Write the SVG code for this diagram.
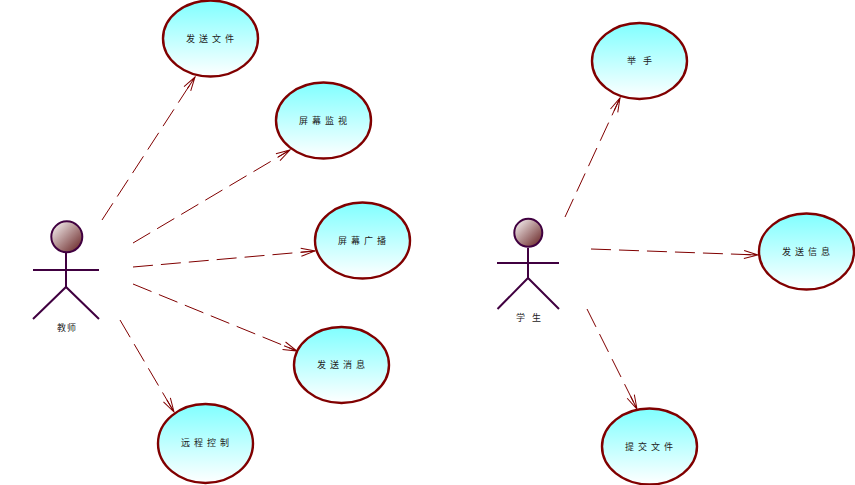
<svg xmlns="http://www.w3.org/2000/svg" width="855" height="485" viewBox="0 0 855 485">
<style>
.uc{fill:url(#ucFill);stroke:#800000;stroke-width:2.4}
.head{fill:url(#headFill);stroke:#400040;stroke-width:2}
.limb{fill:none;stroke:#400040;stroke-width:2}
.dep{fill:none;stroke:#800000;stroke-width:1;stroke-dasharray:20 8;marker-end:url(#open)}
text{font-family:"Noto Sans CJK SC","Liberation Sans",sans-serif;font-size:9px;fill:#222}
.s{letter-spacing:4px}
</style>
<defs>
<linearGradient id="ucFill" x1="0" y1="0" x2="0" y2="1"><stop offset="0" stop-color="#80ffff"/><stop offset="1" stop-color="#ffffff"/></linearGradient>
<linearGradient id="headFill" x1="0.1" y1="0.1" x2="0.9" y2="0.9"><stop offset="0" stop-color="#f0e8e8"/><stop offset="1" stop-color="#703030"/></linearGradient>
<marker id="open" markerUnits="userSpaceOnUse" markerWidth="24" markerHeight="16" refX="20" refY="8" orient="auto" overflow="visible">
<path d="M6,4 L20,8 L6,12 M6,8 L20,8" fill="none" stroke="#800000" stroke-width="1"/>
</marker>
</defs>
<g id="connectors">
<line class="dep" x1="102" y1="220" x2="195" y2="77"/>
<line class="dep" x1="133" y1="243" x2="290" y2="150"/>
<line class="dep" x1="133" y1="267" x2="315" y2="251"/>
<line class="dep" x1="133" y1="284" x2="297" y2="351"/>
<line class="dep" x1="120" y1="320" x2="174" y2="412"/>
<line class="dep" x1="565" y1="217" x2="620" y2="98"/>
<line class="dep" x1="591" y1="249" x2="758" y2="255"/>
<line class="dep" x1="587" y1="309" x2="637" y2="409"/>
</g>
<g id="actor-teacher">
<circle class="head" cx="66.8" cy="236.8" r="15.5"/>
<path class="limb" d="M66,253V287M33,270H99M33,319L66,287L99,319"/>
<text x="57" y="331" letter-spacing="1">教师</text>
</g>
<g id="actor-student">
<circle class="head" cx="528.3" cy="232.8" r="14"/>
<path class="limb" d="M528,248V278M497,263H559M497.5,309L528,278L559,309"/>
<text x="516" y="321" letter-spacing="7">学生</text>
</g>
<g id="uc-send-file"><ellipse class="uc" cx="210.5" cy="38.5" rx="47.5" ry="38"/><text class="s" x="186" y="42">发送文件</text></g>
<g id="uc-screen-monitor"><ellipse class="uc" cx="323.5" cy="120.5" rx="47.5" ry="38"/><text class="s" x="299" y="124">屏幕监视</text></g>
<g id="uc-screen-broadcast"><ellipse class="uc" cx="362.5" cy="240.5" rx="47.5" ry="38"/><text class="s" x="338" y="244">屏幕广播</text></g>
<g id="uc-send-message"><ellipse class="uc" cx="341.5" cy="365" rx="47.5" ry="38"/><text class="s" x="317" y="368">发送消息</text></g>
<g id="uc-remote-control"><ellipse class="uc" cx="205.5" cy="443.5" rx="47.5" ry="39.5"/><text class="s" x="181" y="446">远程控制</text></g>
<g id="uc-raise-hand"><ellipse class="uc" cx="639.5" cy="61" rx="47.5" ry="38"/><text x="627" y="64" letter-spacing="7">举手</text></g>
<g id="uc-send-info"><ellipse class="uc" cx="806.5" cy="251.5" rx="47.5" ry="38"/><text class="s" x="782" y="255">发送信息</text></g>
<g id="uc-submit-file"><ellipse class="uc" cx="649.5" cy="446.5" rx="47.5" ry="38"/><text class="s" x="625" y="450">提交文件</text></g>
</svg>
